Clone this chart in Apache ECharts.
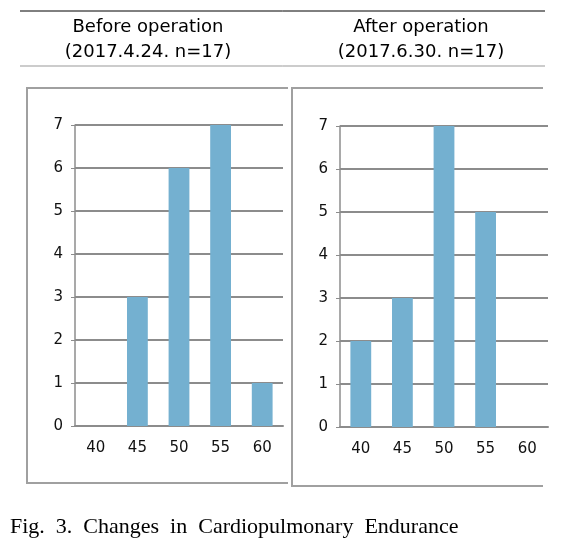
<!DOCTYPE html>
<html><head><meta charset="utf-8">
<script src="https://cdn.jsdelivr.net/npm/echarts@6/dist/echarts.min.js"></script>
<style>html,body{margin:0;padding:0;background:#fff}#c{width:565px;height:549px}</style>
</head><body><div id="c"></div>
<script>
const categories = ['40', '45', '50', '55', '60'];
const beforeValues = [0, 3, 6, 7, 1];
const afterValues = [2, 3, 7, 5, 0];
const yTicks = [0, 1, 2, 3, 4, 5, 6, 7];
const panelTitles = ['Before operation', 'After operation'];
const panelSubtitles = ['(2017.4.24. n=17)', '(2017.6.30. n=17)'];
const caption = 'Fig.  3.  Changes  in  Cardiopulmonary  Endurance';

const chart = echarts.init(document.getElementById('c'));
const barColor = '#74B0D0';
const axisGray = '#8c8c8c';
const sans = '"DejaVu Sans", Arial, sans-serif';

function xAxis(i) {
  return {
    type: 'category', gridIndex: i, data: categories,
    axisLine: { lineStyle: { color: axisGray, width: 2 } },
    axisTick: { show: false },
    axisLabel: { color: '#111', fontSize: 15, fontFamily: sans, margin: 15 }
  };
}
function yAxis(i) {
  return {
    type: 'value', gridIndex: i, min: 0, max: yTicks[yTicks.length - 1], interval: 1,
    axisLine: { show: true, lineStyle: { color: axisGray, width: 1.5 } },
    axisTick: { show: true, length: 4, lineStyle: { color: axisGray } },
    axisLabel: { color: '#111', fontSize: 15, fontFamily: sans, margin: 12 },
    splitLine: { lineStyle: { color: axisGray, width: 2 } }
  };
}

chart.setOption({
  animation: false,
  grid: [
    { left: 75, top: 125, width: 208, height: 301 },
    { left: 340, top: 126, width: 208, height: 301 }
  ],
  xAxis: [xAxis(0), xAxis(1)],
  yAxis: [yAxis(0), yAxis(1)],
  series: [
    { type: 'bar', xAxisIndex: 0, yAxisIndex: 0, data: beforeValues, barWidth: '50%', itemStyle: { color: barColor } },
    { type: 'bar', xAxisIndex: 1, yAxisIndex: 1, data: afterValues, barWidth: '50%', itemStyle: { color: barColor } }
  ],
  graphic: [
    { type: 'line', shape: { x1: 20, y1: 11, x2: 545, y2: 11 }, style: { stroke: '#000', lineWidth: 1 } },
    { type: 'line', shape: { x1: 20, y1: 66, x2: 545, y2: 66 }, style: { stroke: '#999', lineWidth: 1 } },
    { type: 'text', x: 148, y: 27, style: { text: panelTitles[0], font: '18px ' + sans, fill: '#000', align: 'center', verticalAlign: 'middle' } },
    { type: 'text', x: 148, y: 52, style: { text: panelSubtitles[0], font: '18px ' + sans, fill: '#000', align: 'center', verticalAlign: 'middle' } },
    { type: 'text', x: 421, y: 27, style: { text: panelTitles[1], font: '18px ' + sans, fill: '#000', align: 'center', verticalAlign: 'middle' } },
    { type: 'text', x: 421, y: 52, style: { text: panelSubtitles[1], font: '18px ' + sans, fill: '#000', align: 'center', verticalAlign: 'middle' } },
    { type: 'polyline', shape: { points: [[288, 88], [27, 88], [27, 483], [288, 483]] }, style: { stroke: '#a0a0a0', lineWidth: 2, fill: null } },
    { type: 'polyline', shape: { points: [[543, 88], [292, 88], [292, 486], [543, 486]] }, style: { stroke: '#a0a0a0', lineWidth: 2, fill: null } },
    { type: 'text', x: 10, y: 527, style: { text: caption, font: '22px "Liberation Serif", serif', fill: '#000', verticalAlign: 'middle' } }
  ]
});
</script></body></html>
